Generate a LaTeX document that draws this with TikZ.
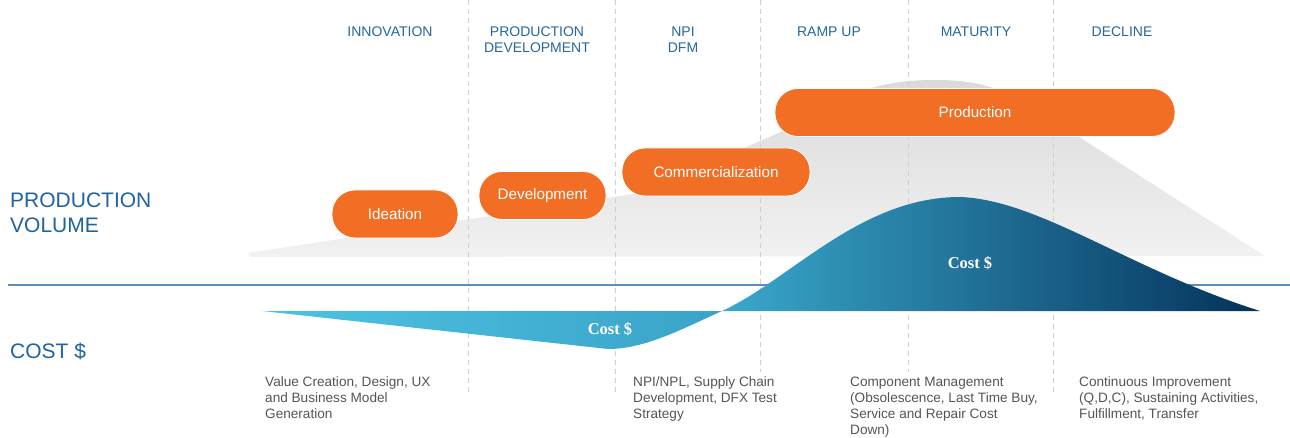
\documentclass[tikz,border=0pt]{standalone}
\usepackage{fontspec}
\setmainfont{Liberation Sans}
\newfontfamily\costfont{Liberation Serif}
\definecolor{orng}{HTML}{F26E25}
\definecolor{hdrblue}{HTML}{26679C}
\definecolor{sideblue}{HTML}{1F63A0}
\definecolor{notegray}{HTML}{555555}
\definecolor{divgray}{HTML}{CFCFCF}
\definecolor{axisblue}{HTML}{5E8EB7}
\definecolor{graytop}{HTML}{DADADA}
\definecolor{graybot}{HTML}{F1F1F1}
\definecolor{lightL}{HTML}{4EC3E3}
\definecolor{lightR}{HTML}{3AA3C8}
\definecolor{darkL}{HTML}{3AA8CC}
\definecolor{darkR}{HTML}{04325B}
\begin{document}
\begin{tikzpicture}[x=1pt,y=-1pt,
  hdr/.style={text=hdrblue,font=\fontsize{14}{16}\selectfont,inner sep=0pt,anchor=base},
  side/.style={text=sideblue,font=\fontsize{21}{25}\selectfont,inner sep=0pt,anchor=base west},
  note/.style={text=notegray,font=\fontsize{13.6}{16}\selectfont,inner sep=0pt,anchor=base west},
  pill/.style={fill=orng,draw=white,line width=0.8pt,rounded corners=23pt,text=white,
    font=\fontsize{15.2}{17}\selectfont,minimum height=48pt,inner sep=0pt},
  costlbl/.style={text=white,font=\costfont\bfseries\fontsize{16.5}{18}\selectfont,inner sep=0pt},
  divider/.style={draw=divgray,dash pattern=on 5pt off 4pt,line width=0.8pt}
]
\useasboundingbox (0,0) rectangle (1290,438);
\fill[white] (0,0) rectangle (1290,438);

% gray production volume hill
\shade[top color=graytop,bottom color=graybot]
  (248,253) -- (640,193) -- (790,128)
  .. controls (850,88) and (890,80) .. (935,80)
  .. controls (985,80) and (1010,92) .. (1040,112)
  -- (1265,256) -- (250,257) -- cycle;

% dividers
\foreach \x/\yb in {468/395,615/395,760/372,908/372,1053/395}
  \draw[divider] (\x,0) -- (\x,\yb);

% axis line
\draw[axisblue,line width=1.4pt] (8,285) -- (1290,285);

% light cost shape
\shade[left color=lightL,right color=lightR]
  (262,311) -- (608,349) .. controls (645,349) and (682,329) .. (722,311) -- cycle;
% dark cost shape
\shade[left color=darkL,right color=darkR]
  (722,311) .. controls (790,280) and (860,197) .. (960,197)
  .. controls (1040,200) and (1130,270) .. (1260,311) -- cycle;

% cost labels
\node[costlbl] (costA) at (610,329) {Cost \$};
\node[costlbl] (costB) at (970,263) {Cost \$};

% orange phases
\node[pill,minimum width=126pt] (ideation) at (395,214) {Ideation};
\node[pill,minimum width=127pt] (devel) at (542.5,195.5) {Development};
\node[pill,minimum width=188pt] (comm) at (716,172) {Commercialization};
\node[pill,minimum width=400pt] (prod) at (975,112.5) {Production};

% headers
\node[hdr] (innov) at (390,37) {INNOVATION};
\node[hdr] (pdA) at (537,37) {PRODUCTION};
\node[hdr] (pdB) at (537,53) {DEVELOPMENT};
\node[hdr] (npiA) at (683,37) {NPI};
\node[hdr] (npiB) at (683,53) {DFM};
\node[hdr] (ramp) at (829,37) {RAMP UP};
\node[hdr] (matur) at (976,37) {MATURITY};
\node[hdr] (decl) at (1122,37) {DECLINE};

% side labels
\node[side] (pvA) at (10,208) {PRODUCTION};
\node[side] (pvB) at (10,233) {VOLUME};
\node[side] (cost) at (10,358) {COST \$};

% notes
\node[note] (nA1) at (265,386) {Value Creation, Design, UX};
\node[note] (nA2) at (265,402.3) {and Business Model};
\node[note] (nA3) at (265,418.6) {Generation};
\node[note] (nB1) at (633,386) {NPI/NPL, Supply Chain};
\node[note] (nB2) at (633,402.3) {Development, DFX Test};
\node[note] (nB3) at (633,418.6) {Strategy};
\node[note] (nC1) at (850,386) {Component Management};
\node[note] (nC2) at (850,402.3) {(Obsolescence, Last Time Buy,};
\node[note] (nC3) at (850,418.6) {Service and Repair Cost};
\node[note] (nC4) at (850,434.9) {Down)};
\node[note] (nD1) at (1079,386) {Continuous Improvement};
\node[note] (nD2) at (1079,402.3) {(Q,D,C), Sustaining Activities,};
\node[note] (nD3) at (1079,418.6) {Fulfillment, Transfer};
\end{tikzpicture}
\end{document}
